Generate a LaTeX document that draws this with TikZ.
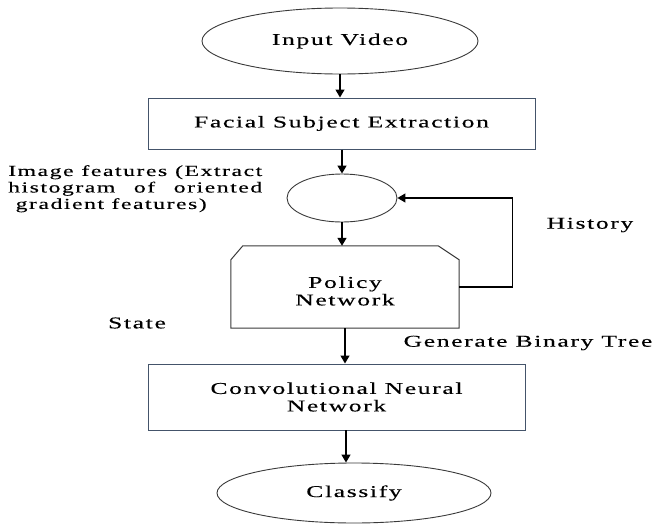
\documentclass[tikz,border=0pt]{standalone}
\usepackage{fontspec}
\setmainfont{Liberation Serif}[FakeStretch=1.55,LetterSpace=10,FakeBold=0.3]
\usetikzlibrary{shapes.geometric,arrows.meta,calc}
\definecolor{boxc}{HTML}{44546A}
\definecolor{linec}{HTML}{3A3A3A}
\tikzset{
  arr/.style={-{Triangle[width=9pt,length=8pt]}, line width=1.4pt, black},
  oval/.style={ellipse, draw=linec, line width=0.9pt, inner sep=0pt},
  box/.style={rectangle, draw=boxc, line width=1pt, inner sep=0pt, align=center},
  txt/.style={align=center, inner sep=0pt},
  every node/.style={font=\fontsize{16.5}{17.5}\selectfont, text=black}
}
\begin{document}
\begin{tikzpicture}[x=1pt,y=-1pt]
\useasboundingbox (0,0) rectangle (654,525);
\node[oval, minimum width=276pt, minimum height=66pt] (iv) at (340,41) {Input Video};
\node[box, minimum width=387pt, minimum height=51pt] (fse) at (341.5,123.5) {Facial Subject Extraction};
\node[oval, minimum width=110pt, minimum height=48pt] (feat) at (342,198) {};
\node[txt, anchor=north west, font=\fontsize{15.3}{16.5}\selectfont] (featlbl) at (8,165) {\makebox[254pt][s]{Image features (Extract}\\\makebox[254pt][s]{histogram of oriented}\\\makebox[254pt][l]{\ gradient features)}};
\node[minimum width=228pt, minimum height=82pt, inner sep=0pt] (pol) at (345,287) {};
\draw[linec, line width=1pt] (pol.south west) -- ($(pol.north west)+(0,14)$) -- ($(pol.north west)+(12,0)$) -- ($(pol.north east)+(-21,0)$) -- ($(pol.north east)+(0,14)$) -- (pol.south east) -- cycle;
\node[txt] (poltxt) at (345,291) {Policy\\Network};
\node[box, minimum width=377pt, minimum height=66pt] (cnn) at (336.5,397) {Convolutional Neural\\Network};
\coordinate (cnnout) at (346,430);
\node[oval, minimum width=274pt, minimum height=60pt] (cls) at (354,493) {Classify};
\node[txt] (hist) at (590,225) {History};
\node[txt] (state) at (137,323) {State};
\node[txt] (gbt) at (528,343) {Generate Binary Tree};
\draw[arr] (iv.south) -- (iv.south |- fse.north);
\draw[arr] (feat.north |- fse.south) -- (feat.north);
\draw[arr] (feat.south) -- (feat.south |- pol.north);
\draw[arr] (pol.south) -- (pol.south |- cnn.north);
\draw[arr] (cnnout) -- (cnnout |- cls.north);
\draw[arr] (pol.east) -- ++(53,0) |- (feat.east);
\end{tikzpicture}
\end{document}
